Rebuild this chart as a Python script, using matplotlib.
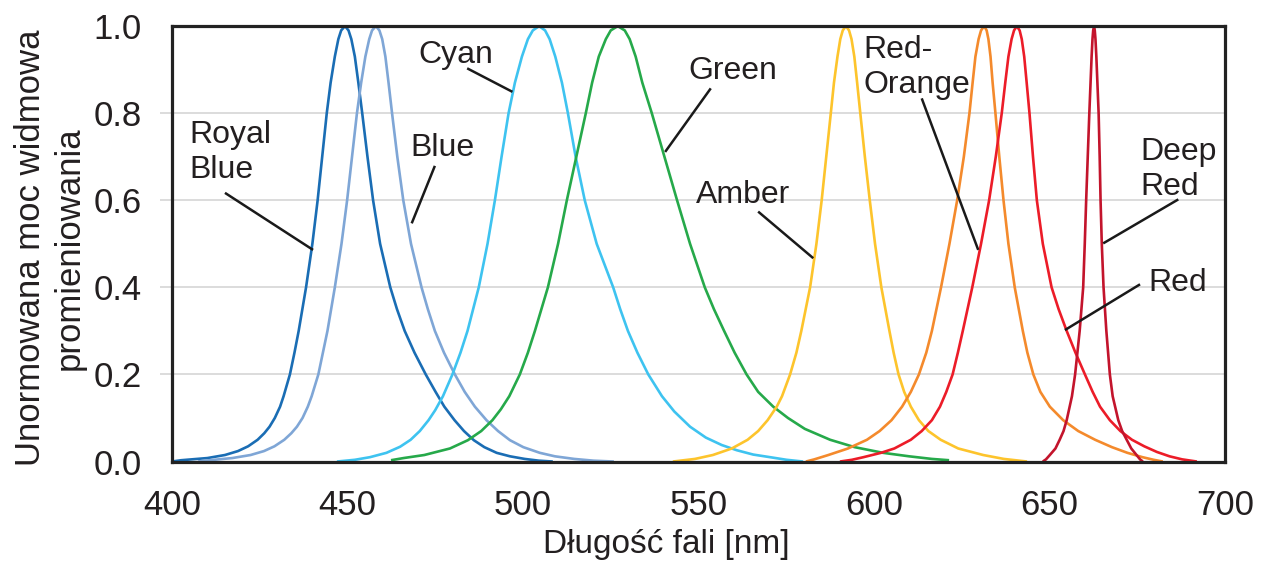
import matplotlib
matplotlib.use("Agg")
import matplotlib.pyplot as plt

plt.rcParams['font.family'] = ['Liberation Sans', 'DejaVu Sans']

# spectra: wavelength [nm] and normalised power
royal_wl = [400.0, 402.6, 410.1, 415.1, 418.8, 421.7, 424.4, 426.3, 427.8, 429.3, 430.8, 431.8,
            433.6, 434.9, 436.1, 438.2, 440.0, 441.5, 442.8, 444.1, 445.2, 446.4, 447.4, 448.2,
            449.3,
            450.3, 451.1, 452.1, 453.1, 454.2, 455.7, 457.3, 459.3, 462.2, 464.1, 466.3, 469.1,
            472.3, 475.1, 477.6, 480.5, 483.2, 486.0, 489.0, 492.5, 496.3, 500.5, 504.5, 508.5]
royal_val = [0.0, 0.003, 0.008, 0.015, 0.024, 0.035, 0.05, 0.065, 0.08, 0.1, 0.126, 0.15,
             0.2, 0.25, 0.3, 0.4, 0.5, 0.6, 0.7, 0.8, 0.87, 0.93, 0.97, 0.99,
             1.0,
             0.99, 0.97, 0.93, 0.87, 0.8, 0.7, 0.6, 0.5, 0.4, 0.35, 0.3, 0.25,
             0.2, 0.16, 0.126, 0.095, 0.07, 0.049, 0.033, 0.02, 0.012, 0.006, 0.002, 0.0]

blue_wl = [407.4, 410.7, 417.2, 422.4, 426.2, 429.2, 432.0, 434.0, 435.6, 437.2, 438.7, 439.8,
           441.7, 443.0, 444.3, 446.4, 448.3, 449.9, 451.3, 452.7, 453.9, 455.1, 456.2, 457.0,
           458.1,
           459.1, 459.9, 460.8, 461.7, 462.7, 464.2, 465.9, 468.1, 471.1, 472.9, 474.9, 477.5,
           480.6, 483.4, 486.3, 489.6, 492.9, 496.3, 500.1, 504.8, 509.1, 514.6, 520.1, 525.9]
blue_val = [0.0, 0.003, 0.008, 0.015, 0.024, 0.035, 0.05, 0.065, 0.08, 0.1, 0.126, 0.15,
            0.2, 0.25, 0.3, 0.4, 0.5, 0.6, 0.7, 0.8, 0.87, 0.93, 0.97, 0.99,
            1.0,
            0.99, 0.97, 0.93, 0.87, 0.8, 0.7, 0.6, 0.5, 0.4, 0.35, 0.3, 0.25,
            0.2, 0.16, 0.126, 0.095, 0.07, 0.049, 0.033, 0.02, 0.012, 0.006, 0.002, 0.0]

cyan_wl = [447.0, 452.1, 456.4, 461.1, 465.0, 468.0, 470.6, 473.1, 475.0, 477.2, 479.9, 482.2,
           484.2, 487.4, 489.9, 492.0, 493.9, 495.9, 497.7, 499.7, 501.4, 502.8, 504.6,
           506.3, 507.6, 509.2, 511.1, 512.8, 515.0, 517.6, 521.0, 525.7, 527.7, 529.9, 532.6,
           535.7, 539.6, 543.1, 547.6, 552.1, 556.6, 560.9, 565.6, 570.4, 575.1, 579.8]
cyan_val = [0.0, 0.004, 0.01, 0.02, 0.034, 0.05, 0.07, 0.095, 0.118, 0.15, 0.2, 0.25,
            0.3, 0.4, 0.5, 0.6, 0.7, 0.8, 0.87, 0.93, 0.97, 0.99, 1.0,
            0.99, 0.97, 0.93, 0.87, 0.8, 0.7, 0.6, 0.5, 0.4, 0.35, 0.3, 0.25,
            0.2, 0.15, 0.115, 0.08, 0.055, 0.038, 0.026, 0.016, 0.01, 0.004, 0.0]

green_wl = [462.4, 466.0, 471.9, 479.2, 484.3, 488.1, 491.3, 493.7, 496.1, 499.1, 501.4, 503.4,
            507.1, 510.0, 512.5, 515.2, 517.9, 519.7, 521.6, 523.6, 525.0, 527.0,
            529.0, 530.4, 532.1, 534.0, 536.7, 540.3, 543.9, 547.6, 551.8, 554.4, 557.3, 560.3,
            563.7, 567.0, 571.3, 575.5, 580.3, 587.5, 594.5, 602.6, 610.0, 616.5, 621.4]
green_val = [0.003, 0.008, 0.015, 0.03, 0.049, 0.07, 0.095, 0.12, 0.15, 0.2, 0.25, 0.3,
             0.4, 0.5, 0.6, 0.7, 0.8, 0.87, 0.93, 0.97, 0.99, 1.0,
             0.99, 0.97, 0.93, 0.87, 0.8, 0.7, 0.6, 0.5, 0.4, 0.35, 0.3, 0.25,
             0.2, 0.16, 0.126, 0.1, 0.075, 0.05, 0.033, 0.02, 0.012, 0.006, 0.003]

amber_wl = [542.7, 549.0, 554.1, 559.5, 564.0, 567.0, 569.7, 572.3, 573.8, 576.1, 577.9, 579.3,
            581.8, 583.6, 585.1, 586.4, 587.7, 588.6, 589.6, 590.4, 591.1, 592.0,
            592.9, 593.6, 594.4, 595.2, 596.1, 597.4, 598.8, 600.3, 602.1, 604.4, 605.6,
            607.0, 608.6, 610.5, 612.8, 615.5, 619.0, 624.0, 631.1, 637.0, 643.6]
amber_val = [0.0, 0.006, 0.015, 0.03, 0.05, 0.07, 0.095, 0.126, 0.15, 0.2, 0.25, 0.3,
             0.4, 0.5, 0.6, 0.7, 0.8, 0.87, 0.93, 0.97, 0.99, 1.0,
             0.99, 0.97, 0.93, 0.87, 0.8, 0.7, 0.6, 0.5, 0.4, 0.3, 0.25,
             0.2, 0.16, 0.126, 0.095, 0.07, 0.05, 0.03, 0.015, 0.006, 0.0]

redor_wl = [580.6, 583.0, 587.0, 592.6, 598.0, 601.6, 605.0, 608.0, 610.5, 612.8, 614.9, 616.5,
            619.1, 621.5, 623.7, 625.6, 627.2, 628.1, 628.9, 629.8, 630.5, 631.4,
            632.1, 632.6, 633.2, 633.8, 634.6, 635.7, 636.9, 638.3, 640.1, 642.4, 643.7,
            645.4, 647.4, 650.1, 653.9, 658.2, 663.0, 667.8, 672.2, 676.5, 679.7, 682.3]
redor_val = [0.0, 0.005, 0.015, 0.03, 0.05, 0.07, 0.095, 0.126, 0.16, 0.2, 0.25, 0.3,
             0.4, 0.5, 0.6, 0.7, 0.8, 0.87, 0.93, 0.97, 0.99, 1.0,
             0.99, 0.97, 0.93, 0.87, 0.8, 0.7, 0.6, 0.5, 0.4, 0.3, 0.25,
             0.2, 0.16, 0.126, 0.095, 0.07, 0.05, 0.033, 0.02, 0.01, 0.004, 0.0]

red_wl = [590.3, 593.7, 597.0, 602.0, 605.8, 610.5, 613.6, 616.5, 618.8, 620.6, 622.4, 623.9,
          625.3, 628.0, 630.5, 632.8, 634.7, 636.4, 637.4, 638.3, 639.2, 639.9, 640.7,
          641.5, 642.1, 642.8, 643.5, 644.3, 645.3, 646.4, 648.1, 650.6, 652.6, 654.9, 657.4,
          660.1, 662.3, 664.4, 667.2, 670.2, 673.5, 677.0, 680.6, 684.2, 687.8, 692.0]
red_val = [0.0, 0.004, 0.01, 0.02, 0.03, 0.05, 0.07, 0.095, 0.126, 0.16, 0.2, 0.25,
           0.3, 0.4, 0.5, 0.6, 0.7, 0.8, 0.87, 0.93, 0.97, 0.99, 1.0,
           0.99, 0.97, 0.93, 0.87, 0.8, 0.7, 0.6, 0.5, 0.4, 0.35, 0.3, 0.25,
           0.2, 0.16, 0.126, 0.095, 0.07, 0.05, 0.035, 0.022, 0.012, 0.005, 0.0]

deep_wl = [648.1, 649.0, 650.1, 651.7, 652.9, 654.0, 654.9, 656.4, 657.3, 658.6, 659.6, 660.05,
           660.45, 660.9, 661.35, 661.7, 662.0, 662.25, 662.45, 662.7,
           662.9, 663.1, 663.35, 663.65, 664.0, 664.3, 664.55, 664.9, 665.4, 666.2, 667.2,
           668.0, 669.6, 670.7, 672.0, 673.3, 674.8, 675.8, 676.6]
deep_val = [0.0, 0.005, 0.015, 0.03, 0.05, 0.07, 0.095, 0.15, 0.2, 0.3, 0.4, 0.5,
            0.6, 0.7, 0.8, 0.87, 0.93, 0.97, 0.99, 1.0,
            0.99, 0.97, 0.93, 0.87, 0.8, 0.7, 0.6, 0.5, 0.4, 0.3, 0.2,
            0.15, 0.095, 0.07, 0.05, 0.03, 0.015, 0.005, 0.0]

x_ticks = [400, 450, 500, 550, 600, 650, 700]
y_ticks = [0.0, 0.2, 0.4, 0.6, 0.8, 1.0]

series = [
    (royal_wl, royal_val, '#1a6db4'),
    (blue_wl, blue_val, '#7fa6d6'),
    (cyan_wl, cyan_val, '#3ec3f0'),
    (green_wl, green_val, '#26a94a'),
    (amber_wl, amber_val, '#fdc42c'),
    (redor_wl, redor_val, '#f48a2c'),
    (red_wl, red_val, '#ec1c28'),
    (deep_wl, deep_val, '#c3142c'),
]

# label text, anchor of the last line's baseline, pointer start, pointer end
labels = [
    ('Royal\nBlue', (405.1, 0.651), (415.1, 0.617), (440.2, 0.486)),
    ('Blue', (467.8, 0.701), (474.9, 0.679), (468.3, 0.547)),
    ('Cyan', (470.1, 0.915), (484.1, 0.903), (497.0, 0.849)),
    ('Green', (547.0, 0.878), (553.5, 0.857), (540.5, 0.711)),
    ('Amber', (549.3, 0.593), (567.0, 0.574), (582.7, 0.467)),
    ('Red-\nOrange', (596.9, 0.847), (613.6, 0.834), (629.7, 0.486)),
    ('Deep\nRed', (675.8, 0.612), (686.7, 0.602), (665.3, 0.501)),
    ('Red', (678.1, 0.392), (675.8, 0.407), (654.4, 0.302)),
]

txt = '#231f20'
fig = plt.figure(figsize=(12.71, 5.67), dpi=100)
ax = fig.add_axes([0.1353, 0.186, 0.8285, 0.768])

for wl, val, col in series:
    ax.plot(wl, val, color=col, lw=1.9, solid_joinstyle='round', solid_capstyle='butt')

for text, pos, p0, p1 in labels:
    ax.text(pos[0], pos[1], text, fontsize=23, color=txt, ha='left', va='baseline',
            linespacing=1.2)
    ax.plot([p0[0], p1[0]], [p0[1], p1[1]], color='#1a1a1a', lw=1.8, solid_capstyle='butt')

ax.set_xlim(400, 700)
ax.set_ylim(0, 1)
ax.set_xticks(x_ticks)
ax.set_yticks(y_ticks)
ax.set_yticklabels(['%.1f' % v for v in y_ticks])
ax.tick_params(axis='both', length=0, labelsize=25, labelcolor=txt)
ax.tick_params(axis='x', pad=20)
ax.tick_params(axis='y', pad=22)

# horizontal grid, running a little past the left frame
ax.hlines(y_ticks[1:-1], -0.011, 1, transform=ax.get_yaxis_transform(), colors='#d9d9d9',
          lw=1.3, clip_on=False, zorder=0)

for s in ax.spines.values():
    s.set_linewidth(2.3)
    s.set_color('#222222')
    s.set_zorder(5)

fig.text(666.5 / 1271, 1 - 545 / 567, 'Długość fali [nm]', fontsize=24, color=txt,
         ha='center', va='center')
fig.text(50 / 1271, 1 - 248 / 567, 'Unormowana moc widmowa\npromieniowania', fontsize=25,
         color=txt, rotation=90, ha='center', va='center', multialignment='center',
         linespacing=1.2)

fig.savefig('out.png', dpi=100)
